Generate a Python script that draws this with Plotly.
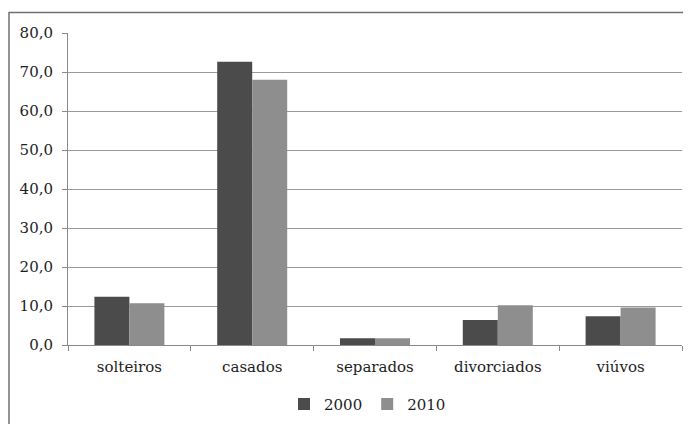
import plotly.graph_objects as go

categorias = ["solteiros", "casados", "separados", "divorciados", "viúvos"]
valores_2000 = [12.4, 72.6, 1.7, 6.4, 7.4]
valores_2010 = [10.7, 68.0, 1.7, 10.2, 9.6]
y_ticks = [0, 10, 20, 30, 40, 50, 60, 70, 80]
y_tick_labels = ["0,0", "10,0", "20,0", "30,0", "40,0", "50,0", "60,0", "70,0", "80,0"]

fonte = "DejaVu Serif"

fig = go.Figure()
fig.add_trace(go.Bar(x=categorias, y=valores_2000, name="2000", marker_color="#4b4b4b", marker_line_width=0))
fig.add_trace(go.Bar(x=categorias, y=valores_2010, name="2010", marker_color="#8e8e8e", marker_line_width=0))

# a página tem 8px de margem no body, por isso a figura é menor
fig.update_layout(
    width=683,
    height=416,
    margin=dict(l=60, r=9, t=25, b=79, autoexpand=False),
    paper_bgcolor="white",
    plot_bgcolor="white",
    font=dict(family=fonte, size=15, color="#1e1e1e"),
    barmode="group",
    bargap=0.43,
    bargroupgap=0,
    showlegend=True,
    legend=dict(
        orientation="h",
        x=(284 - 68) / 614,
        xanchor="left",
        y=-0.19,
        yanchor="middle",
        font=dict(family=fonte, size=15),
        itemwidth=30,
        tracegroupgap=0,
    ),
)

fig.update_xaxes(
    automargin=False,
    showline=True,
    linecolor="#8a8a8a",
    linewidth=1,
    ticks="outside",
    tickson="boundaries",
    ticklen=5,
    tickcolor="#8a8a8a",
    showgrid=False,
    ticklabelstandoff=8,
    tickfont=dict(family=fonte, size=15),
)
fig.update_yaxes(
    automargin=False,
    range=[0, 80],
    tickvals=y_ticks,
    ticktext=y_tick_labels,
    showline=True,
    linecolor="#8a8a8a",
    linewidth=1,
    ticks="outside",
    ticklen=5,
    tickcolor="#8a8a8a",
    showgrid=True,
    gridcolor="#9a9a9a",
    gridwidth=1,
    zeroline=False,
    ticklabelstandoff=6,
    tickfont=dict(family=fonte, size=15),
)

# moldura do gráfico (só esquerda e topo visíveis)
fig.add_shape(
    type="rect",
    xref="paper",
    yref="paper",
    x0=(1 - 60) / 614,
    x1=1.1,
    y0=-0.4,
    y1=1 + (25 - 4.5) / 312,
    line=dict(color="#707070", width=1.5),
    layer="below",
)

fig.write_html("out.html")
